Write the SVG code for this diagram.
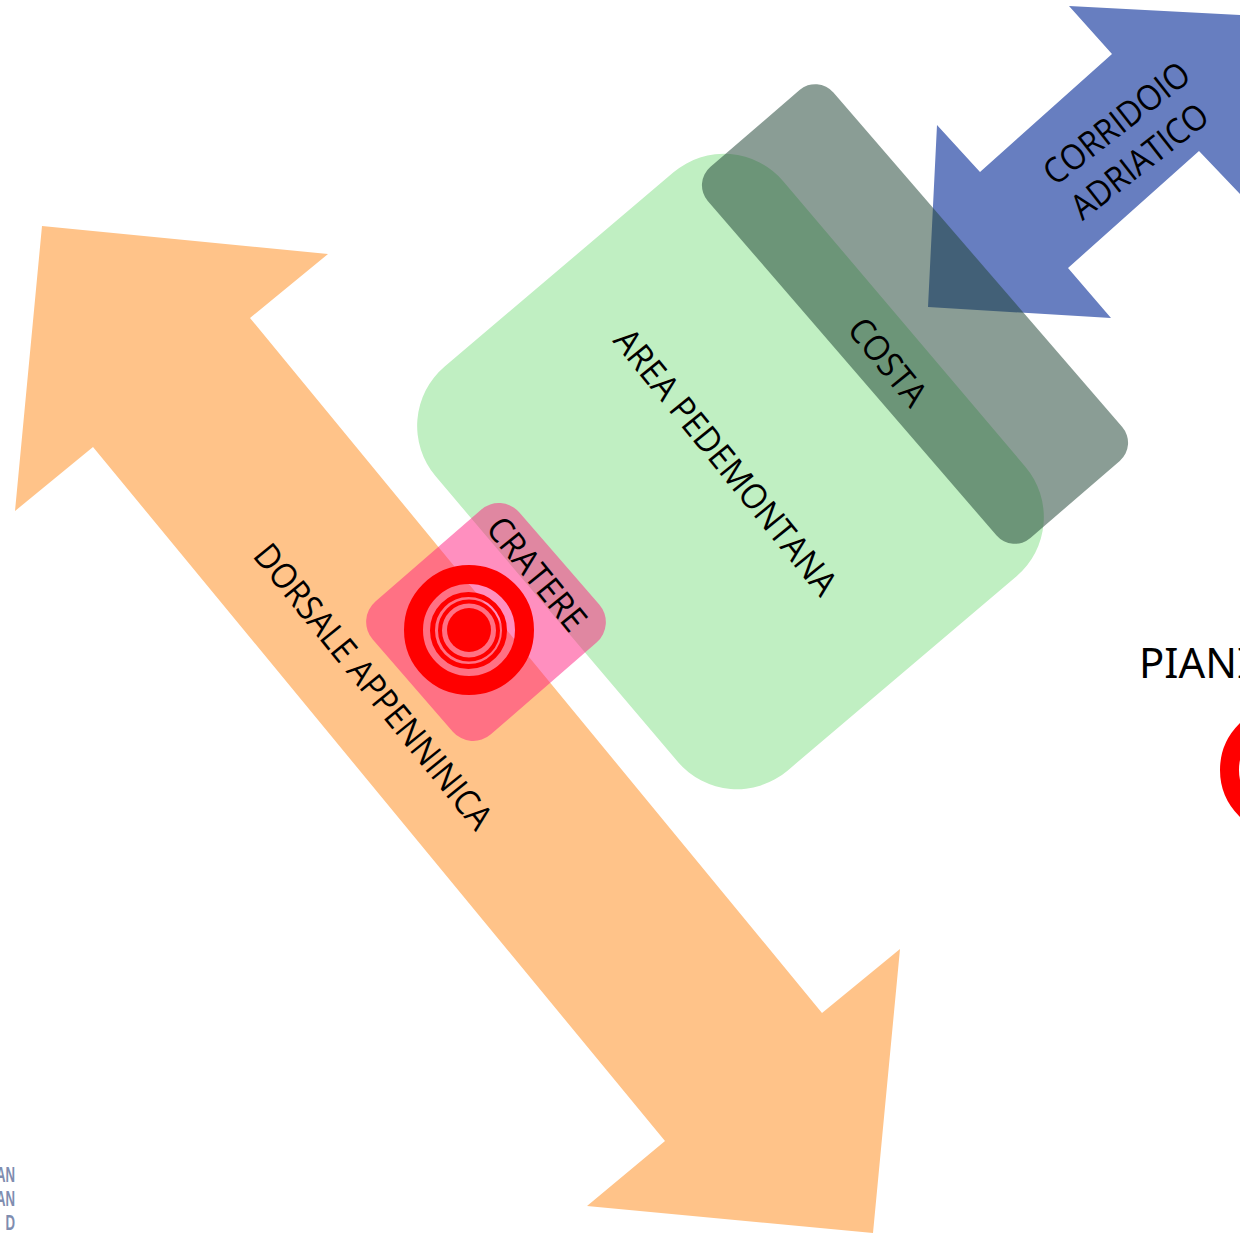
<svg xmlns="http://www.w3.org/2000/svg" width="1240" height="1235" viewBox="0 0 1240 1235">
<style>
text{font-family:"Open Sans","Noto Sans",sans-serif;fill:#000}
.l{text-anchor:middle;font-size:35px}
.r{fill:#f00}
.w{fill:none;stroke:#f00}
.p{font-family:"Noto Sans","Open Sans",sans-serif;font-size:41.8px}
.g{font-family:"Liberation Sans",sans-serif;font-weight:bold;font-size:22px;fill:#7f8db0;text-anchor:end}
</style>
<rect width="1240" height="1235" fill="#fff"/>
<g id="dorsale"><polygon points="42,226 328,254 250,318 822,1013 900,949 873,1233 587,1206 665,1141 93,447 15,511" fill="#ffc389"/>
<text class="l" y="1" transform="translate(364.5 693.5) rotate(51) scale(.915 1)">DORSALE APPENNINICA</text></g>
<g id="pedemontana"><rect x="-265" y="-228" width="530" height="456" rx="78" transform="translate(730.5 471.5) rotate(49.7)" fill="#c0efc2"/>
<text class="l" y="1" transform="translate(717 469) rotate(51) scale(.934 1)">AREA PEDEMONTANA</text></g>
<g id="corridoio"><polygon points="1069,6 1260,16 1260,215 1199,151 1068,268 1111,318 928,307 937,125 980,172 1112,54" fill="#677ec0"/>
<text class="l" y="1" transform="translate(1123.5 132) rotate(-38) scale(.914 1)">CORRIDOIO</text>
<text class="l" y="1" transform="translate(1146.5 170) rotate(-38) scale(.914 1)">ADRIATICO</text></g>
<g id="costa"><rect x="-245" y="-83" width="490" height="166" rx="24" transform="translate(915 314) rotate(49.2)" fill="#224637" fill-opacity=".53"/>
<text class="l" y="1" transform="translate(879 369) rotate(51) scale(.93 1)">COSTA</text></g>
<g id="cratere"><rect x="-88" y="-97" width="176" height="194" rx="27" transform="translate(486 622) rotate(49)" fill="#ff2080" fill-opacity=".5"/>
<text class="l" y="1" transform="translate(528 581) rotate(51) scale(.93 1)">CRATERE</text></g>
<g id="epicentro">
<circle class="w" cx="469" cy="630" r="55.5" stroke-width="19"/>
<circle class="w" cx="468.5" cy="630.5" r="36" stroke-width="5"/>
<circle class="w" cx="469" cy="630.5" r="29" stroke-width="4"/>
<circle class="r" cx="469" cy="630" r="22"/>
</g>
<g id="pianura"><text class="p" x="1139" y="678">PIANI</text>
<circle class="w" cx="1285" cy="770" r="55.5" stroke-width="19"/></g>
<g id="logo">
<text class="g" transform="translate(15 1182) scale(.6 1)">AN</text>
<text class="g" transform="translate(15 1206) scale(.6 1)">AN</text>
<text class="g" transform="translate(15 1230) scale(.6 1)">D</text>
</g>
</svg>
